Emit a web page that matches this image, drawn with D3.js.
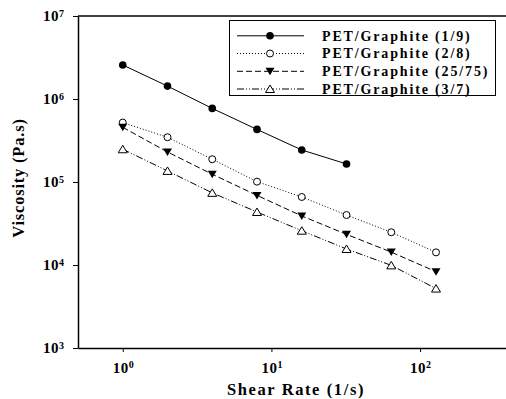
<!DOCTYPE html>
<html><head><meta charset="utf-8">
<script src="https://cdn.jsdelivr.net/npm/d3@7"></script>
<style>
body{margin:0;background:#fff;}
svg{display:block;}
text{font-family:"Liberation Serif","Times New Roman",serif;font-weight:bold;fill:#000;}
</style></head>
<body>
<svg id="c" width="506" height="399"></svg>
<script>
const shearRates = [1, 2, 4, 8, 16, 32, 64, 128];
const seriesNames = ["PET/Graphite (1/9)", "PET/Graphite (2/8)", "PET/Graphite (25/75)", "PET/Graphite (3/7)"];
const visc19 = [2.57e6, 1.43e6, 7.7e5, 4.3e5, 2.43e5, 1.65e5];
const visc28 = [5.2e5, 3.46e5, 1.88e5, 1.01e5, 6.6e4, 4.0e4, 2.48e4, 1.42e4];
const visc2575 = [4.56e5, 2.3e5, 1.24e5, 6.9e4, 3.9e4, 2.34e4, 1.43e4, 8.3e3];
const visc37 = [2.48e5, 1.36e5, 7.4e4, 4.35e4, 2.59e4, 1.56e4, 9.9e3, 5.2e3];
const xTicks = [1, 10, 100];
const yTicks = [1e3, 1e4, 1e5, 1e6, 1e7];

const seriesData = [visc19, visc28, visc2575, visc37];
const dashes = [null, "1,2", "6,3", "7,2,1,2,1,2"];
const markers = ["circleFilled", "circleOpen", "triDownFilled", "triUpOpen"];

const svg = d3.select("#c");
const mLeft = 78, mTop = 16, mBottom = 348, mRight = 524;
const x = d3.scaleLog().domain([0.5, 500]).range([mLeft, mRight]);
const y = d3.scaleLog().domain([1e3, 1e7]).range([mBottom, mTop]);

// frame top line
svg.append("line").attr("x1", mLeft).attr("x2", mRight).attr("y1", mTop).attr("y2", mTop)
  .attr("stroke", "#000").attr("stroke-width", 1.5);

function supLabels(sel) {
  sel.selectAll(".tick text").each(function(d) {
    const t = d3.select(this);
    const e = Math.round(Math.log10(d));
    t.text(null);
    t.append("tspan").attr("letter-spacing", "0.5px").text("10");
    t.append("tspan").attr("dy", "-0.45em").attr("font-size", "10px").text(e);
  });
}

const xAxis = svg.append("g").attr("transform", `translate(0,${mBottom})`)
  .call(d3.axisBottom(x).tickValues(xTicks).tickSize(4).tickPadding(10).tickSizeOuter(0));
xAxis.select(".domain").attr("stroke-width", 1.5);
xAxis.selectAll(".tick line").attr("stroke-width", 1);
xAxis.selectAll(".tick text").attr("font-size", "15px").attr("font-family", "Liberation Serif").attr("font-weight", "bold");
supLabels(xAxis);

const yAxis = svg.append("g").attr("transform", `translate(${mLeft},0)`)
  .call(d3.axisLeft(y).tickValues(yTicks).tickSize(5).tickPadding(9).tickSizeOuter(0));
yAxis.select(".domain").attr("stroke-width", 1.5);
yAxis.selectAll(".tick line").attr("stroke-width", 1);
yAxis.selectAll(".tick text").attr("font-size", "15px").attr("font-family", "Liberation Serif").attr("font-weight", "bold");
supLabels(yAxis);

// axis titles
svg.append("text").attr("x", 296).attr("y", 395).attr("text-anchor", "middle")
  .attr("font-size", "16.5px").attr("letter-spacing", "1.6px").text("Shear Rate (1/s)");
svg.append("text").attr("transform", "translate(24,178) rotate(-90)").attr("text-anchor", "middle")
  .attr("font-size", "16.5px").attr("letter-spacing", "0.8px").text("Viscosity (Pa.s)");

function drawMarker(g, type, cx, cy) {
  if (type === "circleFilled") {
    g.append("circle").attr("cx", cx).attr("cy", cy).attr("r", 3.8).attr("fill", "#000");
  } else if (type === "circleOpen") {
    g.append("circle").attr("cx", cx).attr("cy", cy).attr("r", 3.5).attr("fill", "#fff").attr("stroke", "#000").attr("stroke-width", 1);
  } else if (type === "triDownFilled") {
    g.append("path").attr("d", `M${cx-4.5},${cy-3.5}L${cx+4.5},${cy-3.5}L${cx},${cy+4}Z`).attr("fill", "#000");
  } else {
    g.append("path").attr("d", `M${cx-4.5},${cy+3.5}L${cx+4.5},${cy+3.5}L${cx},${cy-4}Z`).attr("fill", "#fff").attr("stroke", "#000").attr("stroke-width", 1);
  }
}

const line = d3.line().x(d => x(d[0])).y(d => y(d[1]));
seriesData.forEach((vals, i) => {
  const pts = vals.map((v, j) => [shearRates[j], v]);
  const g = svg.append("g");
  g.append("path").attr("d", line(pts)).attr("fill", "none").attr("stroke", "#000")
    .attr("stroke-width", 1).attr("stroke-dasharray", dashes[i]);
  pts.forEach(p => drawMarker(g, markers[i], x(p[0]), y(p[1])));
});

// legend
const lg = svg.append("g");
lg.append("rect").attr("x", 229.5).attr("y", 20.5).attr("width", 266).attr("height", 75)
  .attr("fill", "#fff").attr("stroke", "#000").attr("stroke-width", 1);
const rowBase = [40.6, 58.3, 76.1, 93.8];
seriesNames.forEach((name, i) => {
  const cy = rowBase[i] - 4.8;
  lg.append("line").attr("x1", 237).attr("x2", 304).attr("y1", cy).attr("y2", cy)
    .attr("stroke", "#000").attr("stroke-width", 1).attr("stroke-dasharray", dashes[i]);
  drawMarker(lg, markers[i], 270, cy);
  lg.append("text").attr("x", 322).attr("y", rowBase[i]).attr("font-size", "14px")
    .attr("letter-spacing", "1.85px").text(name);
});
</script>
</body></html>
